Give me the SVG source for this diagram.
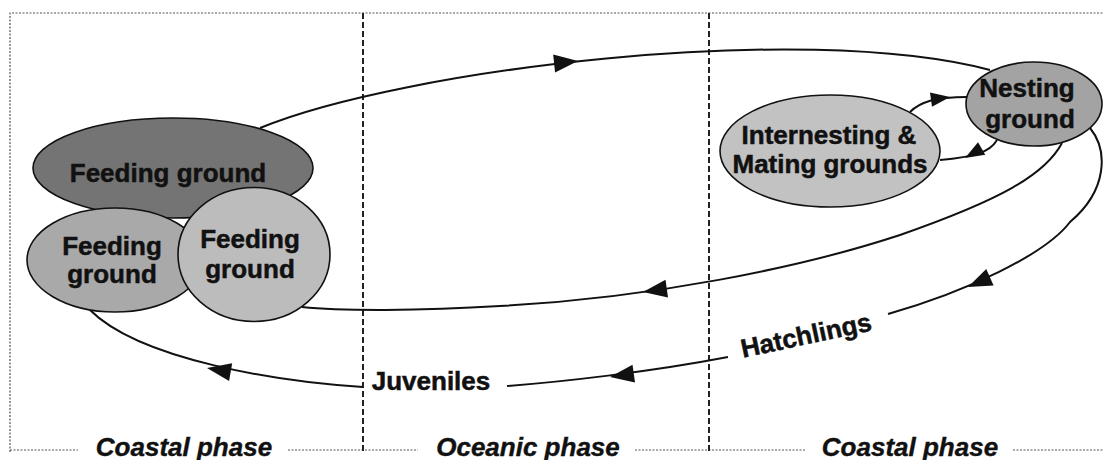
<svg xmlns="http://www.w3.org/2000/svg" xmlns:xlink="http://www.w3.org/1999/xlink" width="1104" height="460" viewBox="0 0 1104 460">
<style>
.lbl{font-family:"Liberation Sans",Arial,sans-serif;font-weight:bold;font-size:26px;fill:#111;stroke:#111;stroke-width:0.5;text-anchor:middle}
.ph{font-family:"Liberation Sans",Arial,sans-serif;font-weight:bold;font-style:italic;font-size:26px;fill:#111;stroke:#111;stroke-width:0.4;text-anchor:middle}
.node{stroke:#111;stroke-width:1.6}
.conn{fill:none;stroke:#111;stroke-width:2}
.dot{fill:none;stroke:#555;stroke-width:1.2;stroke-dasharray:2 1.5}
.dash{fill:none;stroke:#222;stroke-width:2;stroke-dasharray:6 3}
</style>
<defs>
<path id="ah" d="M0,0 L-24,-9 L-24,9 Z" fill="#111"/>
</defs>
<rect width="1104" height="460" fill="#fff"/>
<g id="frame">
<path class="dot" d="M10,452 L10,13 L1104,13"/>
<path class="dot" d="M10,450 L78,450 M288,450 L418,450 M635,450 L805,450 M1013,450 L1104,450"/>
<path class="dash" d="M363,13 L363,452 M709,13 L709,452"/>
</g>
<g id="connectors">
<path class="conn" d="M260,128 C400,70 800,20 990,70"/>
<path class="conn" d="M1062,143 C1045,175 1000,200 900,235 C800,268 650,298 500,306 C420,311 340,311 302,307"/>
<path class="conn" d="M1090,128 C1108,150 1108,190 1070,222 C1045,255 965,292 888,314"/>
<path class="conn" d="M728,357 C650,372 560,382 507,386"/>
<path class="conn" d="M363,387 C280,382 140,360 90,310"/>
<path class="conn" d="M910,112 C920,102 935,97 967,97"/>
<path class="conn" d="M997,140 C990,152 975,157 940,160"/>
<use xlink:href="#ah" transform="translate(578,61) rotate(-6)"/>
<use xlink:href="#ah" transform="translate(643,292) rotate(172)"/>
<use xlink:href="#ah" transform="translate(968,287) rotate(156)"/>
<use xlink:href="#ah" transform="translate(610,377) rotate(172)"/>
<use xlink:href="#ah" transform="translate(207,368) rotate(190)"/>
<use xlink:href="#ah" transform="translate(950,97) rotate(-8) scale(0.8)"/>
<use xlink:href="#ah" transform="translate(965,158) rotate(150) scale(0.8)"/>
</g>
<g id="feeding-main">
<ellipse class="node" cx="173" cy="168" rx="140" ry="50" fill="#747474"/>
<text class="lbl" x="168" y="182">Feeding ground</text>
</g>
<g id="feeding-left">
<ellipse class="node" cx="115" cy="260" rx="88" ry="52" fill="#a9a9a9"/>
<text class="lbl" x="112" y="255">Feeding</text>
<text class="lbl" x="112" y="283">ground</text>
</g>
<g id="feeding-right">
<ellipse class="node" cx="254" cy="254.5" rx="76" ry="67" fill="#bcbcbc"/>
<text class="lbl" x="250" y="248">Feeding</text>
<text class="lbl" x="250" y="278">ground</text>
</g>
<g id="internesting">
<ellipse class="node" cx="830" cy="151" rx="110" ry="56" fill="#c2c2c2"/>
<text class="lbl" x="829" y="144">Internesting &amp;</text>
<text class="lbl" x="830" y="173">Mating grounds</text>
</g>
<g id="nesting">
<ellipse class="node" cx="1034" cy="104" rx="68" ry="42" fill="#a3a3a3"/>
<text class="lbl" x="1027" y="97">Nesting</text>
<text class="lbl" x="1030" y="128">ground</text>
</g>
<g id="labels">
<text class="lbl" x="431" y="390">Juveniles</text>
<text class="lbl" x="808" y="344" transform="rotate(-12 808 344)">Hatchlings</text>
<text class="ph" x="184" y="456">Coastal phase</text>
<text class="ph" x="528" y="456">Oceanic phase</text>
<text class="ph" x="910" y="456">Coastal phase</text>
</g>
</svg>
